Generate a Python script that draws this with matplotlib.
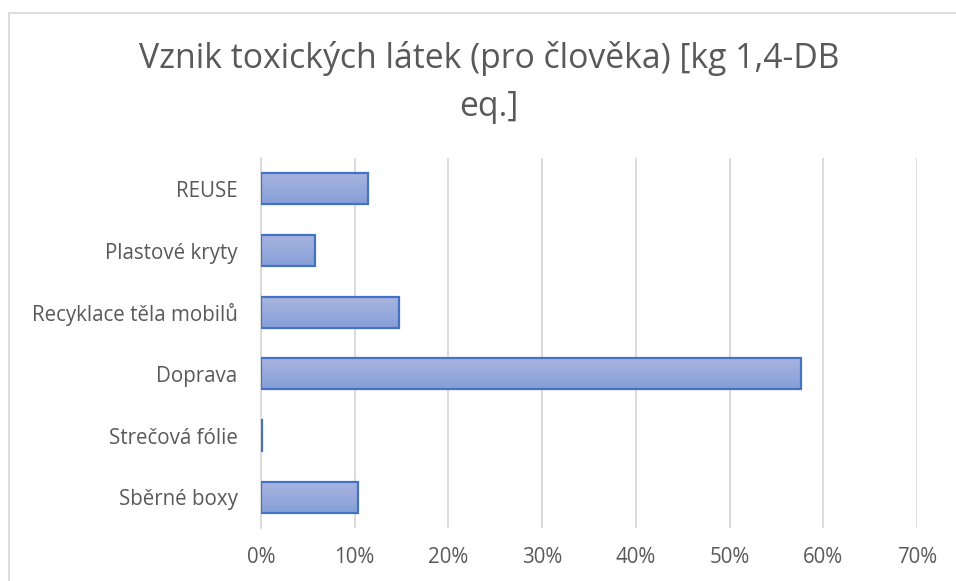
import matplotlib
matplotlib.use('Agg')
import matplotlib.pyplot as plt
import numpy as np
from matplotlib.patches import Rectangle
from matplotlib.ticker import FuncFormatter
from matplotlib.colors import LinearSegmentedColormap

plt.rcParams['font.family'] = ['Open Sans', 'DejaVu Sans']

# data
categories = ['Sběrné boxy', 'Strečová fólie', 'Doprava',
              'Recyklace těla mobilů', 'Plastové kryty', 'REUSE']
values = [0.103, 0.0015, 0.576, 0.147, 0.058, 0.1145]
x_ticks = [0, 0.1, 0.2, 0.3, 0.4, 0.5, 0.6, 0.7]
title = 'Vznik toxických látek (pro člověka) [kg 1,4-DB\neq.]'

grey = '#595959'

fig = plt.figure(figsize=(9.56, 5.81), dpi=100)
ax = fig.add_axes([261/956, 1-528/581, (917-261)/956, (528-158)/581])

bars = ax.barh(categories, values, height=0.5, color='none',
               edgecolor='#4472c4', linewidth=1.6, zorder=3)

# vertical gradient fill, lighter on top
grad = np.linspace(0, 1, 64).reshape(-1, 1)
cmap = LinearSegmentedColormap.from_list('g', ['#a8b4df', '#869fd8'])
for b in bars:
    x0, y0, w, h = b.get_x(), b.get_y(), b.get_width(), b.get_height()
    im = ax.imshow(grad, cmap=cmap, aspect='auto', origin='upper',
                   extent=(x0, x0 + w, y0, y0 + h), zorder=2)
    im.set_clip_path(b)
    b.set_zorder(4)

ax.set_xlim(0, 0.7)
ax.set_ylim(-0.5, len(categories) - 0.5)
ax.set_xticks(x_ticks)
ax.xaxis.set_major_formatter(FuncFormatter(lambda v, p: f'{v*100:.0f}%'))
ax.grid(axis='x', color='#d9d9d9', linewidth=1.3, zorder=0)
ax.set_axisbelow(True)
for s in ['top', 'right', 'bottom']:
    ax.spines[s].set_visible(False)
ax.spines['left'].set_color('#d9d9d9')
ax.spines['left'].set_linewidth(1.3)
ax.tick_params(axis='both', length=0, labelcolor=grey, labelsize=14.8)
ax.tick_params(axis='y', pad=17)
ax.tick_params(axis='x', pad=14)

fig.text(489/956, 1-41/581, title, ha='center', va='top', color=grey,
         fontsize=24.3, linespacing=1.55)

# chart area border
fig.patches.append(Rectangle((9/956, -0.05), 1.2, 1.05-13/581,
                             transform=fig.transFigure, fill=False,
                             edgecolor='#d9d9d9', linewidth=1.3))

fig.savefig('out.png', dpi=100)
